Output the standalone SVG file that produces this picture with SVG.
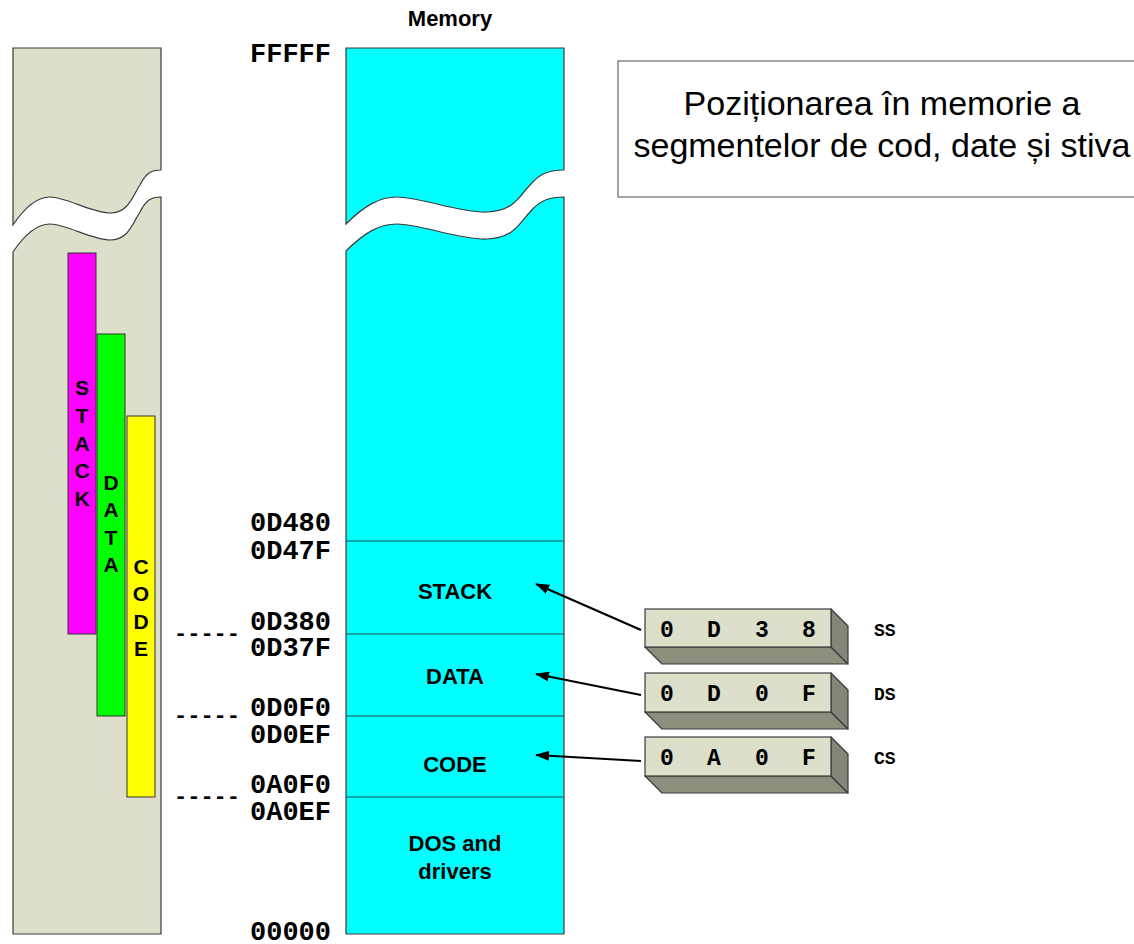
<svg xmlns="http://www.w3.org/2000/svg" width="1134" height="944" viewBox="0 0 1134 944">
  <style>
    .col { stroke: #3a3a3a; stroke-width: 1.2; }
    .sand { fill: #DDDFCA; }
    .mem { fill: #00FFFF; }
    .div { stroke: #2a4a4a; stroke-width: 1.2; fill: none; }
    .bar { stroke: #333; stroke-width: 1; }
    .addr { font-family: "Liberation Mono", "Courier New", monospace; font-weight: bold; font-size: 27px; fill: #000; }
    .dash { font-family: "Liberation Mono", "Courier New", monospace; font-weight: bold; font-size: 22px; fill: #000; }
    .reg { font-family: "Liberation Mono", "Courier New", monospace; font-weight: bold; font-size: 23px; fill: #000; text-anchor: middle; }
    .regname { font-family: "Liberation Mono", "Courier New", monospace; font-weight: bold; font-size: 18px; fill: #000; }
    .lbl { font-family: "Liberation Sans", Arial, sans-serif; font-weight: bold; font-size: 22px; fill: #000; text-anchor: middle; }
    .vert { font-family: "Liberation Sans", Arial, sans-serif; font-weight: bold; font-size: 21px; fill: #000; text-anchor: middle; }
    .title { font-family: "Liberation Sans", Arial, sans-serif; font-size: 34px; fill: #000; text-anchor: middle; }
    .front { fill: #DDDFCA; stroke: #3a3a3a; stroke-width: 1.2; }
    .bottom { fill: #8E8E7E; stroke: #3a3a3a; stroke-width: 1.2; stroke-linejoin: round; }
    .side { fill: #85857A; stroke: #3a3a3a; stroke-width: 1.2; stroke-linejoin: round; }
    .arrow { stroke: #000; stroke-width: 2.2; fill: none; marker-end: url(#head); }
  </style>
  <defs>
    <marker id="head" viewBox="0 0 14 10" refX="13" refY="5" markerWidth="14" markerHeight="10" markerUnits="userSpaceOnUse" orient="auto">
      <path d="M0,0 L14,5 L0,10 Z" fill="#000"/>
    </marker>
  </defs>
  <rect width="1134" height="944" fill="#fff"/>

  <!-- segment overview column (broken) -->
  <g id="overview">
    <path class="col sand" d="M13,48 H161 V170 C151,170 146,173 140,185 C133,195 129,213 110,213 C92,213 66,197 50,197 C37,197 25,207 13,225 Z"/>
    <path class="col sand" d="M13,252 C25,234 37,224 50,224 C66,224 92,240 110,240 C129,240 133,222 140,212 C146,200 151,197 161,197 V934 H13 Z"/>
  </g>
  <g id="bar-stack">
    <rect class="bar" x="68" y="253" width="28" height="381" fill="#FF00FF"/>
    <text class="vert"><tspan x="82" y="395">S</tspan><tspan x="82" y="423">T</tspan><tspan x="82" y="451">A</tspan><tspan x="82" y="478">C</tspan><tspan x="82" y="506">K</tspan></text>
  </g>
  <g id="bar-data">
    <rect class="bar" x="97" y="334" width="28" height="382" fill="#00FF00"/>
    <text class="vert"><tspan x="111" y="490">D</tspan><tspan x="111" y="517">A</tspan><tspan x="111" y="545">T</tspan><tspan x="111" y="572">A</tspan></text>
  </g>
  <g id="bar-code">
    <rect class="bar" x="127" y="416" width="28" height="381" fill="#FFFF00"/>
    <text class="vert"><tspan x="141" y="574">C</tspan><tspan x="141" y="601">O</tspan><tspan x="141" y="629">D</tspan><tspan x="141" y="656">E</tspan></text>
  </g>

  <!-- memory column -->
  <g id="memory">
    <text class="lbl" x="450" y="26">Memory</text>
    <path class="col mem" d="M346,48 H564 V170 C550,170 540,173 530,185 C520,195 515,211 487,212 C460,213 420,197 397,197 C380,197 365,205 346,224 Z"/>
    <path class="col mem" d="M346,251 C365,232 380,224 397,224 C420,224 460,240 487,239 C515,238 520,222 530,212 C540,200 550,197 564,197 V934 H346 Z"/>
    <line class="div" x1="346" y1="541" x2="564" y2="541"/>
    <line class="div" x1="346" y1="634" x2="564" y2="634"/>
    <line class="div" x1="346" y1="716" x2="564" y2="716"/>
    <line class="div" x1="346" y1="797" x2="564" y2="797"/>
  </g>
  <g id="mem-stack"><text class="lbl" x="455" y="599">STACK</text></g>
  <g id="mem-data"><text class="lbl" x="455" y="684">DATA</text></g>
  <g id="mem-code"><text class="lbl" x="455" y="772">CODE</text></g>
  <g id="mem-dos"><text class="lbl" x="455" y="851">DOS and</text><text class="lbl" x="455" y="879">drivers</text></g>

  <!-- address labels -->
  <g id="addresses">
    <text class="addr" x="250" y="62">FFFFF</text>
    <text class="addr" x="250" y="531">0D480</text>
    <text class="addr" x="250" y="559">0D47F</text>
    <text class="addr" x="250" y="630">0D380</text>
    <text class="addr" x="250" y="656">0D37F</text>
    <text class="addr" x="250" y="716">0D0F0</text>
    <text class="addr" x="250" y="743">0D0EF</text>
    <text class="addr" x="250" y="793">0A0F0</text>
    <text class="addr" x="250" y="820">0A0EF</text>
    <text class="addr" x="250" y="940">00000</text>
    <text class="dash" x="174" y="640">-----</text>
    <text class="dash" x="174" y="722">-----</text>
    <text class="dash" x="174" y="803">-----</text>
  </g>

  <!-- segment registers -->
  <g id="reg-ss">
    <polygon class="bottom" points="645,647 831,647 848,664 662,664"/>
    <polygon class="side" points="831,609 848,626 848,664 831,647"/>
    <rect class="front" x="645" y="609" width="186" height="38"/>
    <text class="reg" y="637"><tspan x="667">0</tspan><tspan x="714">D</tspan><tspan x="762">3</tspan><tspan x="809">8</tspan></text>
    <text class="regname" x="874" y="636">SS</text>
  </g>
  <g id="reg-ds">
    <polygon class="bottom" points="645,712 831,712 848,729 662,729"/>
    <polygon class="side" points="831,673 848,690 848,729 831,712"/>
    <rect class="front" x="645" y="673" width="186" height="39"/>
    <text class="reg" y="701"><tspan x="667">0</tspan><tspan x="714">D</tspan><tspan x="762">0</tspan><tspan x="809">F</tspan></text>
    <text class="regname" x="874" y="700">DS</text>
  </g>
  <g id="reg-cs">
    <polygon class="bottom" points="645,776 831,776 848,793 662,793"/>
    <polygon class="side" points="831,737 848,754 848,793 831,776"/>
    <rect class="front" x="645" y="737" width="186" height="39"/>
    <text class="reg" y="765"><tspan x="667">0</tspan><tspan x="714">A</tspan><tspan x="762">0</tspan><tspan x="809">F</tspan></text>
    <text class="regname" x="874" y="764">CS</text>
  </g>

  <!-- register to segment pointers -->
  <g id="connectors">
    <line class="arrow" x1="641" y1="630" x2="536" y2="584"/>
    <line class="arrow" x1="641" y1="695" x2="536" y2="674"/>
    <line class="arrow" x1="641" y1="761" x2="536" y2="755"/>
  </g>

  <!-- caption -->
  <g id="caption">
    <rect x="618" y="61" width="530" height="136" fill="#fff" stroke="#666" stroke-width="1.2"/>
    <text class="title" x="882" y="115">Poziționarea în memorie a</text>
    <text class="title" x="882" y="157">segmentelor de cod, date și stiva</text>
  </g>
</svg>
